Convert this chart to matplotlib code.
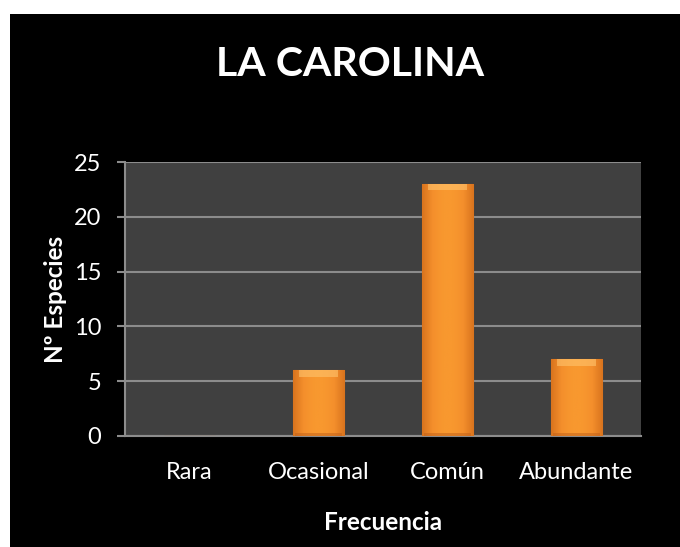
import numpy as np
import matplotlib.pyplot as plt
from matplotlib.patches import Rectangle
from matplotlib.colors import LinearSegmentedColormap

plt.rcParams["font.family"] = ["Lato", "DejaVu Sans"]

categorias = ["Rara", "Ocasional", "Común", "Abundante"]
especies = [0, 6, 23, 7]
ticks_y = [0, 5, 10, 15, 20, 25]

titulo = "LA CAROLINA"
etiqueta_x = "Frecuencia"
etiqueta_y = "Nº Especies"

fig = plt.figure(figsize=(6.8, 5.47), dpi=100, facecolor="white")

# black chart area (white margin on the top and left)
fig.patches.append(
    Rectangle((10 / 680, 0), 1, 1 - 14 / 547, transform=fig.transFigure,
              facecolor="black", edgecolor="none", zorder=-10)
)

ax = fig.add_axes([125 / 680, 111 / 547, 516 / 680, 274 / 547])
ax.set_facecolor("#404040")

x = np.arange(len(categorias))
bars = ax.bar(x, especies, width=0.40, color="#F7942E",
              edgecolor="#B35A15", linewidth=0.8, zorder=3)

# light gradient across each bar, darker only near the sides
grad = LinearSegmentedColormap.from_list(
    "naranja", ["#D9741E", "#F48F2C", "#F8982F", "#F8982F", "#F48F2C", "#D9741E"])
gx = np.linspace(0, 1, 64).reshape(1, -1)
for b in bars:
    if b.get_height() <= 0:
        continue
    bx, by = b.get_x(), b.get_y()
    bw, bh = b.get_width(), b.get_height()
    im = ax.imshow(gx, cmap=grad, aspect="auto", zorder=3.5,
                   extent=(bx, bx + bw, by, by + bh))
    im.set_clip_path(b)
    # lighter top bevel
    ax.bar(bx + bw / 2, 0.6, width=bw * 0.75, bottom=by + bh - 0.6,
           color="#FFC46E", alpha=0.6, zorder=4, linewidth=0)
    # darker bottom edge
    ax.bar(bx + bw / 2, 0.3, width=bw * 0.9, bottom=by,
           color="#C0601A", alpha=0.5, zorder=4, linewidth=0)

ax.set_xlim(-0.5, len(categorias) - 0.5)
ax.set_ylim(0, 25)
ax.set_yticks(ticks_y)
ax.set_xticks(x)
ax.set_xticklabels(categorias)

ax.grid(axis="y", color="#8C8C8C", linewidth=1.5, zorder=1)
ax.set_axisbelow(True)

for s in ["top", "right"]:
    ax.spines[s].set_visible(False)
for s in ["left", "bottom"]:
    ax.spines[s].set_color("#8C8C8C")
    ax.spines[s].set_linewidth(1.5)

ax.tick_params(axis="y", colors="#8C8C8C", labelcolor="white",
               length=6, width=1.5, labelsize=17, pad=11)
ax.tick_params(axis="x", length=0, labelcolor="white", labelsize=17, pad=19)

ax.set_xlabel(etiqueta_x, color="white", fontsize=17.5, fontweight="bold",
              labelpad=20)
ax.set_ylabel(etiqueta_y, color="white", fontsize=17.5, fontweight="bold",
              labelpad=5)

fig.text(350 / 680, 1 - 65 / 547, titulo, color="white", fontsize=29.5,
         fontweight="bold", ha="center", va="center")

fig.savefig("out.png", dpi=100, facecolor=fig.get_facecolor())
